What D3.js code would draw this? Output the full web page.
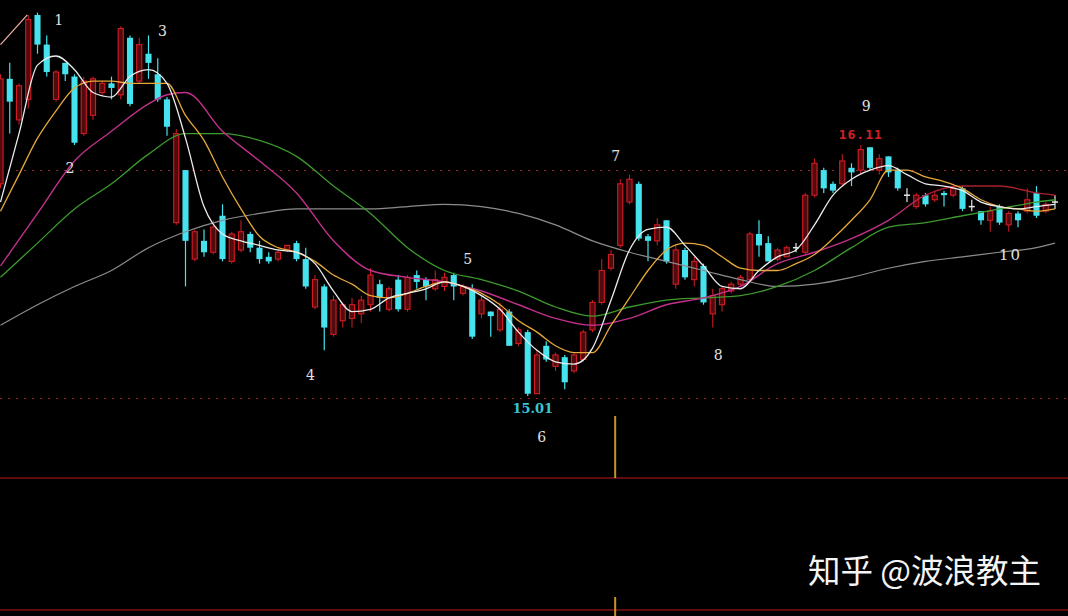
<!DOCTYPE html>
<html>
<head>
<meta charset="utf-8">
<script src="https://cdn.jsdelivr.net/npm/d3@7"></script>
<style>
  html, body { margin: 0; padding: 0; background: #000; overflow: hidden; }
  svg { display: block; }
</style>
</head>
<body>
<svg id="chart" width="1068" height="616"></svg>
<script>
// ---- daily bars (price units) ----
const opens = [
  15.94,16.40,16.22,16.31,16.68,16.55,16.31,16.47,16.41,16.16,
  16.24,16.34,16.38,16.33,16.58,16.39,16.51,16.42,16.31,15.77,
  16.00,15.61,15.69,15.64,15.80,15.60,15.65,15.72,15.66,15.62,
  15.61,15.65,15.68,15.61,15.40,15.49,15.28,15.34,15.35,15.37,
  15.41,15.50,15.39,15.52,15.39,15.54,15.52,15.48,15.49,15.54,
  15.46,15.48,15.37,15.38,15.30,15.38,15.24,15.29,15.02,15.23,
  15.14,15.18,15.12,15.17,15.30,15.42,15.57,15.67,15.86,15.94,
  15.71,15.69,15.78,15.50,15.65,15.52,15.58,15.37,15.41,15.47,
  15.50,15.52,15.72,15.68,15.61,15.62,15.66,15.64,15.89,16.00,
  15.94,15.94,16.01,16.00,16.10,16.00,16.06,16.00,15.89,15.84,
  15.89,15.87,15.90,15.89,15.92,15.84,15.82,15.78,15.84,15.76,
  15.81,15.82,15.90,15.82,15.86
];
const highs = [
  16.42,16.47,16.38,16.68,16.69,16.59,16.44,16.47,16.42,16.41,
  16.41,16.39,16.41,16.63,16.59,16.58,16.59,16.49,16.32,16.18,
  16.00,15.74,15.74,15.78,15.85,15.73,15.78,15.73,15.69,15.64,
  15.65,15.67,15.69,15.66,15.54,15.50,15.45,15.42,15.44,15.45,
  15.57,15.52,15.49,15.54,15.54,15.56,15.53,15.56,15.55,15.55,
  15.50,15.50,15.45,15.38,15.42,15.39,15.31,15.30,15.21,15.25,
  15.20,15.19,15.20,15.30,15.43,15.61,15.65,15.96,15.98,15.95,
  15.72,15.79,15.78,15.67,15.66,15.62,15.59,15.48,15.49,15.51,
  15.54,15.73,15.78,15.71,15.66,15.67,15.68,15.90,16.05,16.01,
  15.95,16.07,16.03,16.11,16.10,16.07,16.06,16.01,15.92,15.90,
  15.90,15.91,15.91,15.94,15.93,15.87,15.82,15.84,15.85,15.82,
  15.82,15.92,15.93,15.86,15.89
];
const lows = [
  15.92,16.16,16.20,16.27,16.51,16.41,16.30,16.39,16.11,16.15,
  16.22,16.33,16.31,16.31,16.28,16.38,16.40,16.30,16.15,15.76,
  15.49,15.60,15.62,15.63,15.60,15.59,15.64,15.64,15.59,15.59,
  15.60,15.64,15.60,15.48,15.39,15.21,15.27,15.31,15.31,15.33,
  15.38,15.38,15.38,15.38,15.38,15.48,15.43,15.47,15.47,15.43,
  15.45,15.26,15.35,15.27,15.29,15.23,15.23,15.01,15.02,15.16,
  15.12,15.04,15.11,15.16,15.29,15.41,15.56,15.66,15.85,15.69,
  15.60,15.67,15.59,15.48,15.52,15.49,15.41,15.31,15.38,15.46,
  15.49,15.51,15.62,15.60,15.60,15.62,15.64,15.63,15.88,15.90,
  15.90,15.93,15.93,15.98,16.00,15.98,15.97,15.91,15.86,15.83,
  15.84,15.86,15.84,15.88,15.82,15.82,15.76,15.73,15.76,15.73,
  15.75,15.81,15.79,15.81,15.83
];
const closes = [
  16.40,16.30,16.37,16.66,16.55,16.43,16.43,16.42,16.12,16.39,
  16.40,16.38,16.36,16.62,16.29,16.55,16.47,16.31,16.19,16.16,
  15.69,15.73,15.64,15.75,15.61,15.72,15.73,15.66,15.61,15.60,
  15.64,15.67,15.61,15.49,15.52,15.31,15.43,15.41,15.41,15.43,
  15.54,15.44,15.48,15.39,15.53,15.51,15.49,15.52,15.53,15.49,
  15.49,15.27,15.43,15.36,15.39,15.23,15.30,15.02,15.19,15.17,
  15.19,15.07,15.19,15.29,15.42,15.56,15.63,15.94,15.96,15.70,
  15.69,15.76,15.60,15.65,15.53,15.60,15.42,15.45,15.48,15.50,
  15.53,15.72,15.67,15.60,15.65,15.66,15.66,15.89,16.03,15.92,
  15.91,16.04,15.99,16.09,16.01,16.05,15.99,15.92,15.89,15.89,
  15.85,15.89,15.89,15.92,15.83,15.84,15.78,15.82,15.77,15.81,
  15.78,15.87,15.80,15.85,15.86
];

// ---- moving averages: [bar index, price] ----
const ma5 = [
  [0,15.86],[2,16.16],[4,16.46],[6,16.50],[8,16.44],[10,16.34],[12,16.32],[14,16.41],
  [16,16.44],[18,16.38],[20,16.14],[22,15.84],[24,15.72],[26,15.69],[28,15.67],[30,15.65],
  [32,15.64],[34,15.59],[36,15.47],[38,15.38],[40,15.39],[42,15.44],[44,15.46],[46,15.48],
  [48,15.51],[50,15.49],[52,15.45],[54,15.39],[56,15.29],[58,15.21],[60,15.16],[62,15.15],
  [64,15.22],[66,15.43],[68,15.65],[70,15.74],[72,15.75],[74,15.67],[76,15.58],[78,15.49],
  [80,15.48],[82,15.56],[84,15.62],[86,15.65],[88,15.76],[90,15.89],[92,15.96],[94,16.00],
  [96,16.02],[98,15.98],[100,15.94],[102,15.93],[104,15.91],[106,15.86],[108,15.84],
  [110,15.83],[112,15.84],[114,15.85]
];
const ma10 = [
  [0,15.82],[2,15.98],[4,16.14],[6,16.26],[8,16.36],[10,16.39],[12,16.39],[14,16.38],
  [16,16.38],[18,16.38],[20,16.24],[22,16.13],[24,15.97],[26,15.83],[28,15.71],[30,15.66],
  [32,15.64],[34,15.60],[36,15.54],[38,15.50],[40,15.45],[42,15.44],[44,15.46],[46,15.49],
  [48,15.51],[50,15.49],[52,15.46],[54,15.41],[56,15.34],[58,15.29],[60,15.23],[62,15.20],
  [64,15.20],[66,15.32],[68,15.44],[70,15.56],[72,15.65],[74,15.68],[76,15.67],[78,15.62],
  [80,15.57],[82,15.56],[84,15.56],[86,15.59],[88,15.63],[90,15.70],[92,15.78],[94,15.87],
  [96,16.00],[98,16.00],[100,15.97],[102,15.95],[104,15.92],[106,15.87],[108,15.84],
  [110,15.83],[112,15.82],[114,15.83]
];
const ma20 = [
  [0,15.58],[4,15.81],[8,16.04],[12,16.17],[16,16.29],[18,16.33],[20,16.34],[24,16.17],
  [28,16.04],[32,15.90],[36,15.69],[40,15.56],[44,15.53],[48,15.51],[52,15.47],[56,15.41],
  [60,15.35],[64,15.32],[68,15.35],[72,15.41],[76,15.44],[80,15.49],[84,15.59],[88,15.64],
  [92,15.70],[96,15.78],[100,15.89],[104,15.93],[108,15.93],[112,15.90],[114,15.89]
];
const ma30 = [
  [0,15.53],[4,15.68],[8,15.83],[12,15.94],[16,16.07],[20,16.16],[24,16.16],[28,16.13],
  [32,16.06],[36,15.93],[40,15.81],[44,15.66],[48,15.56],[52,15.52],[56,15.47],[60,15.40],
  [64,15.36],[68,15.40],[72,15.43],[76,15.44],[80,15.45],[84,15.49],[88,15.56],[92,15.66],
  [96,15.75],[100,15.77],[104,15.80],[108,15.83],[112,15.86],[114,15.87]
];
const ma60 = [
  [0,15.32],[4,15.41],[8,15.49],[12,15.56],[16,15.66],[20,15.73],[24,15.78],[28,15.81],
  [32,15.83],[36,15.83],[40,15.83],[44,15.84],[48,15.85],[52,15.84],[56,15.81],[60,15.76],
  [64,15.69],[68,15.64],[72,15.60],[76,15.56],[80,15.52],[84,15.49],[88,15.50],[92,15.53],
  [96,15.57],[100,15.60],[104,15.62],[108,15.64],[112,15.66],[114,15.68]
];
// short trend stroke at the far left
const trendSeg = [[0,16.55],[2.9,16.68]];

// ---- reference levels and annotations ----
const dottedLevels = [16.00, 15.00];
const waveText  = ["1","2","3","4","5","6","7","8","9","10"];
const waveIdx   = [6.3, 7.5, 17.5, 33.5, 50.5, 58.5, 66.5, 77.6, 93.6, 109.2];
const wavePrice = [16.66,16.01,16.61,15.10,15.61,14.83,16.06,15.19,16.28,15.63];
const lowIdx = 57, highIdx = 93;
const cursorIdx = 66.45;

// ---- layout ----
const W = 1068, H = 616;
const svg = d3.select("#chart");
svg.append("rect").attr("width", W).attr("height", H).attr("fill", "#000");

const x = d3.scaleLinear().domain([0, opens.length - 1]).range([0.5, 1055]);
const y = d3.scaleLinear().domain([15.01, 16.11]).range([396, 145]);
const bodyW = (x(1) - x(0)) * 0.66;

const UP = "#d21c24", UPFILL = "#520a0c", DOWN = "#46e3ee", FLAT = "#e6e6e6";

// dotted price levels
svg.append("g").selectAll("line").data(dottedLevels).join("line")
  .attr("x1", 0).attr("x2", W)
  .attr("y1", d => Math.round(y(d)) + 0.5).attr("y2", d => Math.round(y(d)) + 0.5)
  .attr("stroke", "#a02222").attr("stroke-width", 1.2)
  .attr("stroke-dasharray", "2,6");

// panel separators and cursor
const panel = svg.append("g");
[478, 610].forEach(py => panel.append("line")
  .attr("x1", 0).attr("x2", W).attr("y1", py).attr("y2", py)
  .attr("stroke", "#5e0e0e").attr("stroke-width", 2));
panel.append("line").attr("x1", x(cursorIdx)).attr("x2", x(cursorIdx))
  .attr("y1", 416).attr("y2", 478).attr("stroke", "#c8921e").attr("stroke-width", 2);
panel.append("line").attr("x1", x(cursorIdx)).attr("x2", x(cursorIdx))
  .attr("y1", 597).attr("y2", H).attr("stroke", "#c8921e").attr("stroke-width", 2);

// ---- candles ----
const bars = opens.map((o, i) => ({ i, o, h: highs[i], l: lows[i], c: closes[i] }));
const gC = svg.append("g");
bars.forEach(d => {
  const cx = x(d.i);
  const top = y(Math.max(d.o, d.c)), bot = y(Math.min(d.o, d.c));
  if (d.c > d.o) {
    // rising bar: hollow red body, wick split around it
    gC.append("line").attr("x1", cx).attr("x2", cx).attr("y1", y(d.h)).attr("y2", top)
      .attr("stroke", UP).attr("stroke-width", 1);
    gC.append("line").attr("x1", cx).attr("x2", cx).attr("y1", bot).attr("y2", y(d.l))
      .attr("stroke", UP).attr("stroke-width", 1);
    gC.append("rect").attr("x", cx - bodyW / 2 + 0.5).attr("y", top)
      .attr("width", bodyW - 1).attr("height", Math.max(1, bot - top))
      .attr("fill", UPFILL).attr("stroke", UP).attr("stroke-width", 1.1);
  } else if (d.c < d.o) {
    gC.append("line").attr("x1", cx).attr("x2", cx).attr("y1", y(d.h)).attr("y2", y(d.l))
      .attr("stroke", DOWN).attr("stroke-width", 1.2);
    gC.append("rect").attr("x", cx - bodyW / 2).attr("y", top)
      .attr("width", bodyW).attr("height", Math.max(2, bot - top))
      .attr("fill", DOWN);
  } else {
    gC.append("line").attr("x1", cx).attr("x2", cx).attr("y1", y(d.h)).attr("y2", y(d.l))
      .attr("stroke", FLAT).attr("stroke-width", 1.2);
    gC.append("line").attr("x1", cx - bodyW / 2).attr("x2", cx + bodyW / 2)
      .attr("y1", top).attr("y2", top).attr("stroke", FLAT).attr("stroke-width", 1.5);
  }
});

// ---- moving average lines ----
const defs = svg.append("defs");
const grad = defs.append("linearGradient").attr("id", "ma20tone")
  .attr("gradientUnits", "userSpaceOnUse")
  .attr("x1", x(96)).attr("x2", x(101)).attr("y1", 0).attr("y2", 0);
grad.append("stop").attr("offset", 0).attr("stop-color", "#c2308c");
grad.append("stop").attr("offset", 1).attr("stop-color", "#a8202c");

const line = d3.line().x(d => x(d[0])).y(d => y(d[1])).curve(d3.curveMonotoneX);
const maSpec = [
  { data: ma60, color: "#8c8c8c", w: 1.2 },
  { data: ma30, color: "#3d9a2e", w: 1.3 },
  { data: ma20, color: "url(#ma20tone)", w: 1.4 },
  { data: ma10, color: "#e6a83a", w: 1.3 },
  { data: ma5,  color: "#ececec", w: 1.3 },
  { data: trendSeg, color: "#f0aca4", w: 1.3 }
];
svg.append("g").selectAll("path").data(maSpec).join("path")
  .attr("d", s => line(s.data))
  .attr("fill", "none")
  .attr("stroke", s => s.color)
  .attr("stroke-width", s => s.w)
  .attr("stroke-linejoin", "round");

// ---- annotations ----
svg.append("g").selectAll("text").data(waveText).join("text")
  .attr("x", (t, k) => x(waveIdx[k]))
  .attr("y", (t, k) => y(wavePrice[k]))
  .attr("text-anchor", "middle")
  .attr("dominant-baseline", "central")
  .attr("font-family", "DejaVu Serif, serif")
  .attr("font-size", (t) => t.length > 1 ? 15 : 14)
  .attr("letter-spacing", t => t.length > 1 ? 2 : 0)
  .attr("fill", "#e2e2e2")
  .text(t => t);

svg.append("text")
  .attr("x", x(lowIdx) + 5).attr("y", y(lows[lowIdx]) + 12)
  .attr("text-anchor", "middle").attr("dominant-baseline", "central")
  .attr("font-family", "DejaVu Serif, serif").attr("font-weight", "bold")
  .attr("font-size", 13).attr("fill", "#3cc4d2")
  .text(lows[lowIdx].toFixed(2));

svg.append("text")
  .attr("x", x(highIdx)).attr("y", y(highs[highIdx]) - 11)
  .attr("text-anchor", "middle").attr("dominant-baseline", "central")
  .attr("font-family", "DejaVu Sans Mono, monospace").attr("font-weight", "bold")
  .attr("font-size", 13).attr("letter-spacing", 1).attr("fill", "#d42024")
  .text(highs[highIdx].toFixed(2));

// watermark
svg.append("text")
  .attr("x", 808).attr("y", 583)
  .attr("font-family", "Noto Sans CJK SC, sans-serif")
  .attr("font-size", 32.5).attr("fill", "#f4f4f4")
  .text("知乎 @波浪教主");
</script>
</body>
</html>
